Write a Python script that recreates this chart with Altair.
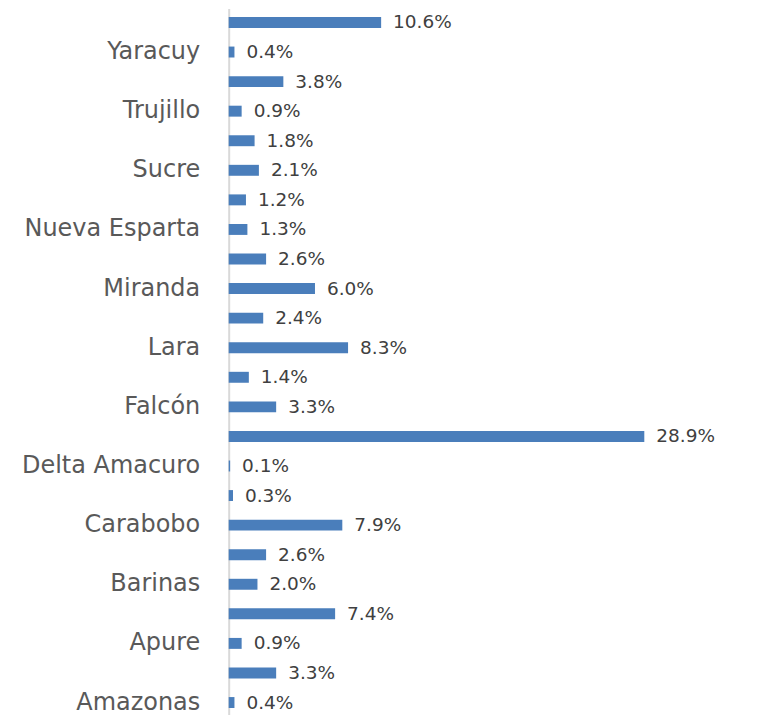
import altair as alt
import pandas as pd

states = ["Zulia", "Yaracuy", "Vargas", "Trujillo", "Táchira", "Sucre",
          "Portuguesa", "Nueva Esparta", "Monagas", "Miranda", "Mérida", "Lara",
          "Guárico", "Falcón", "Distrito Capital", "Delta Amacuro", "Cojedes",
          "Carabobo", "Bolívar", "Barinas", "Aragua", "Apure", "Anzoátegui", "Amazonas"]
shares = [10.6, 0.4, 3.8, 0.9, 1.8, 2.1, 1.2, 1.3, 2.6, 6.0, 2.4, 8.3,
          1.4, 3.3, 28.9, 0.1, 0.3, 7.9, 2.6, 2.0, 7.4, 0.9, 3.3, 0.4]
shown_labels = states[1::2]

df = pd.DataFrame({"state": states, "share": shares})
df["label"] = df["share"].map(lambda v: f"{v:.1f}%")

y_enc = alt.Y("state:N", sort=states, title=None,
              scale=alt.Scale(paddingInner=0.63, paddingOuter=0.288),
              axis=alt.Axis(values=shown_labels, ticks=False, labelPadding=29,
                            labelFont="DejaVu Sans", labelFontSize=24,
                            labelColor="#595959", domainColor="#d9d9d9",
                            domainWidth=2, grid=False))
x_enc = alt.X("share:Q", scale=alt.Scale(domain=[0, 30]), axis=None)

bars = alt.Chart(df).mark_bar(color="#4a7ebb").encode(y=y_enc, x=x_enc)
labels = alt.Chart(df).mark_text(align="left", baseline="middle", dx=12,
                                 font="DejaVu Sans", fontSize=18.5,
                                 color="#404040").encode(
    y=alt.Y("state:N", sort=states), x=x_enc, text="label:N")

chart = (bars + labels).properties(
    width=432, height=709,
    autosize=alt.AutoSizeParams(type="none"),
    padding={"left": 221, "top": 0, "right": 90, "bottom": 0},
).configure_view(stroke=None)

chart.save("out.html", embed_options={"renderer": "svg", "actions": False})
